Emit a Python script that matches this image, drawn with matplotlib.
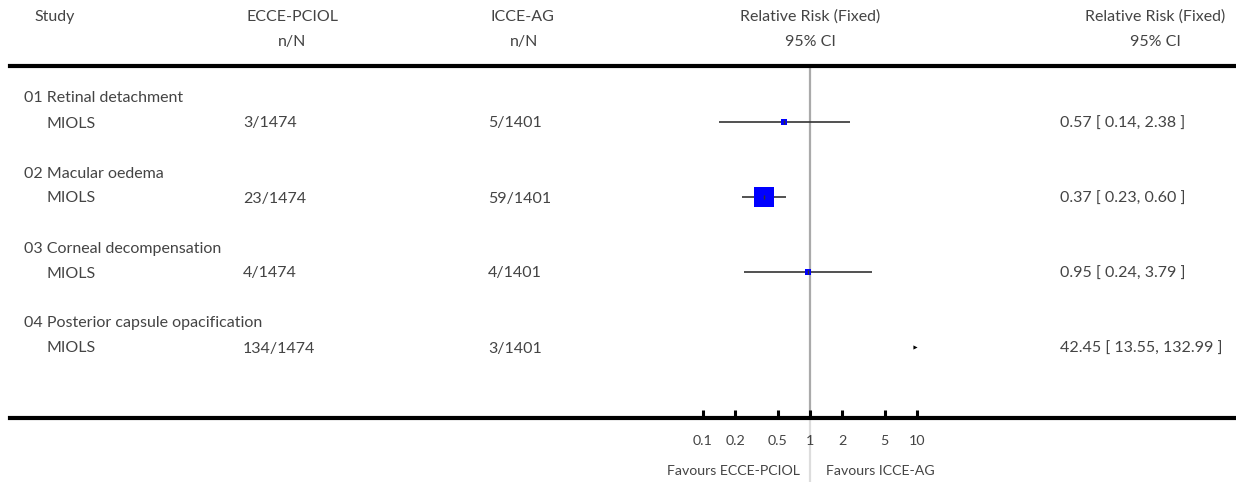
"""
Forest plot: ECCE-PCIOL vs ICCE-AG, relative risk (fixed), MIOLS trial.
"""
import matplotlib
matplotlib.use('Agg')
import matplotlib.pyplot as plt
from matplotlib.lines import Line2D
from matplotlib.transforms import blended_transform_factory
import numpy as np

plt.rcParams['font.family'] = ['Lato', 'DejaVu Sans']

# Data
subgroups = ['01 Retinal detachment', '02 Macular oedema',
             '03 Corneal decompensation', '04 Posterior capsule opacification']
studies = ['MIOLS', 'MIOLS', 'MIOLS', 'MIOLS']
events_t = [3, 23, 4, 134]
total_t = [1474, 1474, 1474, 1474]
events_c = [5, 59, 4, 3]
total_c = [1401, 1401, 1401, 1401]
rr = [0.57, 0.37, 0.95, 42.45]
ci_low = [0.14, 0.23, 0.24, 13.55]
ci_high = [2.38, 0.60, 3.79, 132.99]
tick_values = [0.1, 0.2, 0.5, 1, 2, 5, 10]
tick_labels = ['0.1', '0.2', '0.5', '1', '2', '5', '10']

W, H = 1236, 482
TXT = '#444444'
FS = 11.5

fig = plt.figure(figsize=(W / 100, H / 100), dpi=100)

# Forest axes: log scale 0.1..10 placed between pixel x 703 and 917
ax = fig.add_axes([703 / W, 0, 214 / W, 1])
ax.set_xscale('log')
ax.set_xlim(0.1, 10)
# row i sits at pixel y = 122 + 75 * i
ax.set_ylim((H - 122) / 75, -122 / 75)
ax.patch.set_alpha(0)
for s in ['top', 'left', 'right']:
    ax.spines[s].set_visible(False)
ax.spines['bottom'].set_position(('data', (418 - 122) / 75))
ax.spines['bottom'].set_visible(False)
ax.set_yticks([])
ax.set_xticks(tick_values)
ax.set_xticklabels(tick_labels)
ax.minorticks_off()
ax.tick_params(axis='x', direction='in', length=6, width=2.2, color='black',
               pad=12, labelsize=10.3, labelcolor=TXT)

def py(pix):
    return (pix - 122) / 75

# line of no effect
ax.plot([1, 1], [py(66), py(418)], color='#aaaaaa', lw=1.6, zorder=1)
ax.plot([1, 1], [py(418), py(H)], color='#dddddd', lw=1.6, zorder=1,
        clip_on=False)

# box size from inverse variance weight
var = [1 / a - 1 / n + 1 / b - 1 / m
       for a, n, b, m in zip(events_t, total_t, events_c, total_c)]
w = 1 / np.array(var)
side = 20 * np.sqrt(w / w[:3].max())

for i in range(len(rr)):
    ax.hlines(i, ci_low[i], ci_high[i], color='#333333', lw=1.2, zorder=2)
    if rr[i] <= 10:
        ax.plot(rr[i], i, marker='s', color='#0000ff', ms=side[i] / 1.389,
                mew=0, zorder=3)
        ax.plot(rr[i], i, marker='|', color='#333333', ms=3, mew=1, zorder=4)
    else:
        ax.plot(10 ** 0.98, i, marker='>', color='black', ms=3, mew=0,
                zorder=3)

# thick rules
fig.add_artist(Line2D([10 / W, 1], [1 - 66 / H] * 2, color='black', lw=3))
fig.add_artist(Line2D([10 / W, 1], [1 - 418 / H] * 2, color='black', lw=3))

# header
def ftext(x, y, s, ha='left', size=FS):
    fig.text(x / W, 1 - y / H, s, ha=ha, va='center', fontsize=size,
             color=TXT)

ftext(34, 17, 'Study')
ftext(292, 17, 'ECCE-PCIOL', 'center')
ftext(292, 42, 'n/N', 'center')
ftext(522, 17, 'ICCE-AG', 'center')
ftext(524, 42, 'n/N', 'center')
ftext(810, 17, 'Relative Risk (Fixed)', 'center')
ftext(810, 42, '95% CI', 'center')
ftext(1155, 17, 'Relative Risk (Fixed)', 'center')
ftext(1155, 42, '95% CI', 'center')
ftext(800, 471, 'Favours ECCE-PCIOL', 'right', 10.2)
ftext(826, 471, 'Favours ICCE-AG', 'left', 10.2)

# rows (text sits a touch below the CI line, as in the original)
tr = blended_transform_factory(fig.transFigure, ax.transData)
dy = 1.5 / 75
for i in range(len(rr)):
    kw = dict(transform=tr, va='center', fontsize=FS, color=TXT)
    fig.text(24 / W, i - 1 / 3 + dy, subgroups[i], **kw)
    fig.text(47 / W, i + dy, studies[i], **kw)
    fig.text(243 / W, i + dy, f'{events_t[i]}/{total_t[i]}', **kw)
    fig.text(488 / W, i + dy, f'{events_c[i]}/{total_c[i]}', **kw)
    fig.text(1060 / W, i + dy,
             f'{rr[i]:.2f} [ {ci_low[i]:.2f}, {ci_high[i]:.2f} ]', **kw)

fig.savefig('out.png', dpi=100)
